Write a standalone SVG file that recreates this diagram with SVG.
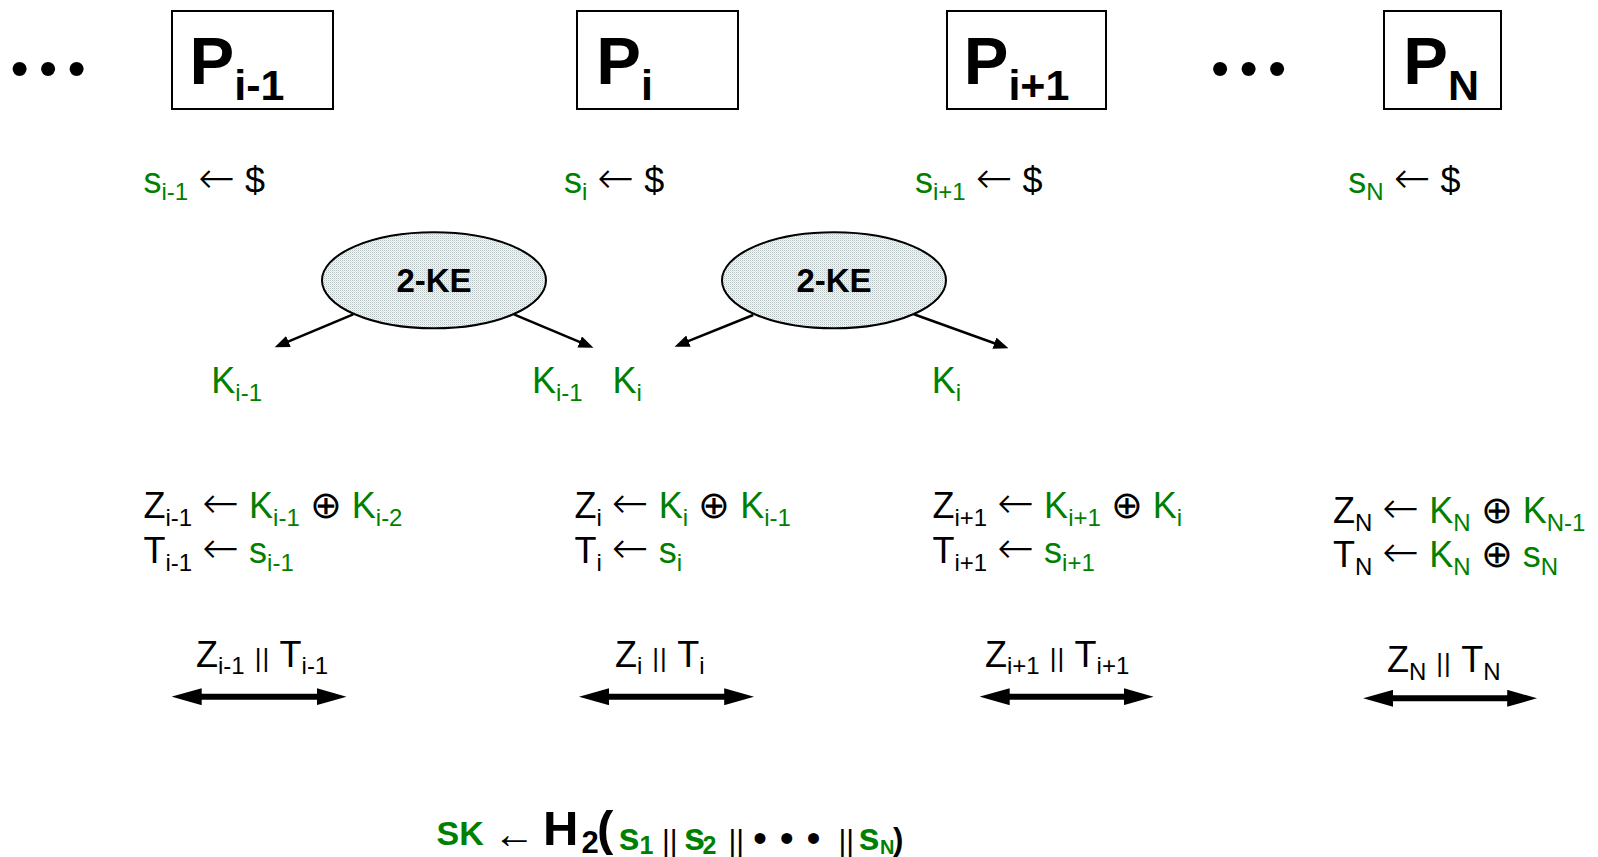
<svg xmlns="http://www.w3.org/2000/svg" width="1598" height="857" viewBox="0 0 1598 857">
<style>
.t{font-family:"Liberation Sans","DejaVu Sans",sans-serif;font-size:36px;fill:#000}
.f{font-family:"Liberation Sans","DejaVu Sans",sans-serif;fill:#000}
.g{fill:#008000}
.sb{font-size:24px}
.op{font-family:"DejaVu Sans",sans-serif;font-size:38px;font-weight:200}
.ar{font-family:"DejaVu Sans",sans-serif;font-size:44px;font-weight:200}
.pp{font-size:26px;letter-spacing:1px}
.b{font-weight:bold}
.box{fill:#fff;stroke:#000;stroke-width:2}
.P{font-family:"Liberation Sans",Arial,sans-serif;font-weight:bold;font-size:67px;fill:#000}
.Ps{font-size:43px}
.ke{font-family:"Liberation Sans",Arial,sans-serif;font-weight:bold;font-size:33px;fill:#000}
.ell{fill:url(#dots);stroke:#000;stroke-width:2}
.thin{stroke:#000;stroke-width:2.5;fill:none;marker-end:url(#ah)}
.dbl{stroke:#000;stroke-width:6;fill:none;marker-start:url(#dh);marker-end:url(#dh)}
.bul{font-family:"Liberation Sans",Arial,sans-serif;fill:#000}
</style>
<defs>
<pattern id="dots" width="2" height="2" patternUnits="userSpaceOnUse">
<rect width="2" height="2" fill="#f4f6f6"/>
<rect width="1" height="1" fill="#b8c2c2"/>
<rect x="1" y="1" width="1" height="1" fill="#dde3e3"/>
</pattern>
<marker id="ah" markerUnits="userSpaceOnUse" markerWidth="15" markerHeight="12" refX="3" refY="6" orient="auto"><path d="M0,0 L15,6 L0,12 z" fill="#000"/></marker>
<marker id="dh" markerUnits="userSpaceOnUse" markerWidth="30" markerHeight="17" refX="5" refY="8.5" orient="auto-start-reverse"><path d="M0,0 L30,8.5 L0,17 z" fill="#000"/></marker>
</defs>
<rect width="1598" height="857" fill="#fff"/>

<text class="bul" x="10.4" y="86" font-size="52" letter-spacing="10.3">•••</text>
<text class="bul" x="1211" y="86" font-size="52" letter-spacing="10.3">•••</text>

<g id="P_im1"><rect class="box" x="172" y="11" width="161" height="98"/><text class="P" x="189.5" y="84">P<tspan class="Ps" y="100">i-1</tspan></text></g>
<g id="P_i"><rect class="box" x="577" y="11" width="161" height="98"/><text class="P" x="596.2" y="84">P<tspan class="Ps" y="100">i</tspan></text></g>
<g id="P_ip1"><rect class="box" x="947" y="11" width="159" height="98"/><text class="P" x="963.7" y="84">P<tspan class="Ps" y="100">i+1</tspan></text></g>
<g id="P_N"><rect class="box" x="1384" y="11" width="117" height="98"/><text class="P" x="1403.2" y="84">P<tspan class="Ps" y="100">N</tspan></text></g>

<g id="s_row">
<text class="t" x="143.5" y="192.7"><tspan class="g">s<tspan class="sb" y="200.2">i-1</tspan></tspan><tspan y="192.7"> </tspan><tspan class="ar">←</tspan><tspan> $</tspan></text>
<text class="t" x="564" y="192.7"><tspan class="g">s<tspan class="sb" y="200.2">i</tspan></tspan><tspan y="192.7"> </tspan><tspan class="ar">←</tspan><tspan> $</tspan></text>
<text class="t" x="915" y="192.7"><tspan class="g">s<tspan class="sb" y="200.2">i+1</tspan></tspan><tspan y="192.7"> </tspan><tspan class="ar">←</tspan><tspan> $</tspan></text>
<text class="t" x="1348.3" y="192.7"><tspan class="g">s<tspan class="sb" y="200.2">N</tspan></tspan><tspan y="192.7"> </tspan><tspan class="ar">←</tspan><tspan> $</tspan></text>
</g>

<g id="ke1"><ellipse class="ell" cx="434" cy="280.3" rx="112" ry="48"/><text class="ke" x="434" y="292" text-anchor="middle">2-KE</text></g>
<g id="ke2"><ellipse class="ell" cx="834" cy="280.3" rx="112" ry="48"/><text class="ke" x="834" y="292" text-anchor="middle">2-KE</text></g>

<g id="connectors">
<line class="thin" x1="353.2" y1="314.3" x2="285.7" y2="342.7"/>
<line class="thin" x1="513.9" y1="314.3" x2="582.4" y2="343.1"/>
<line class="thin" x1="753.2" y1="315" x2="685.7" y2="342.2"/>
<line class="thin" x1="913.9" y1="314.3" x2="997.2" y2="344.2"/>
<line class="dbl" x1="196.7" y1="696.7" x2="321.5" y2="696.7"/>
<line class="dbl" x1="604" y1="696.7" x2="729.2" y2="696.7"/>
<line class="dbl" x1="1004.7" y1="696.7" x2="1128.6" y2="696.7"/>
<line class="dbl" x1="1388.2" y1="698.3" x2="1512.2" y2="698.3"/>
</g>

<g id="k_labels">
<text class="t g" x="211.3" y="393">K<tspan class="sb" y="400.5">i-1</tspan></text>
<text class="t g" x="532" y="393">K<tspan class="sb" y="400.5">i-1</tspan></text>
<text class="t g" x="612.4" y="393">K<tspan class="sb" y="400.5">i</tspan></text>
<text class="t g" x="931.7" y="393">K<tspan class="sb" y="400.5">i</tspan></text>
</g>

<g id="col1">
<text class="t" x="143.5" y="518.3">Z<tspan class="sb" y="525.8">i-1</tspan><tspan y="518.3"> </tspan><tspan class="ar">←</tspan><tspan> </tspan><tspan class="g">K<tspan class="sb" y="525.8">i-1</tspan></tspan><tspan y="518.3"> </tspan><tspan class="op">⊕</tspan><tspan class="g"> K<tspan class="sb" y="525.8">i-2</tspan></tspan></text>
<text class="t" x="143.5" y="563.3">T<tspan class="sb" y="570.8">i-1</tspan><tspan y="563.3"> </tspan><tspan class="ar">←</tspan><tspan> </tspan><tspan class="g">s<tspan class="sb" y="570.8">i-1</tspan></tspan></text>
<text class="t" x="196" y="666.7">Z<tspan class="sb" y="674.2">i-1</tspan><tspan y="666.7"> </tspan><tspan class="pp">||</tspan><tspan> T</tspan><tspan class="sb" y="674.2">i-1</tspan></text>
</g>
<g id="col2">
<text class="t" x="574.5" y="518.3">Z<tspan class="sb" y="525.8">i</tspan><tspan y="518.3"> </tspan><tspan class="ar">←</tspan><tspan> </tspan><tspan class="g">K<tspan class="sb" y="525.8">i</tspan></tspan><tspan y="518.3"> </tspan><tspan class="op">⊕</tspan><tspan class="g"> K<tspan class="sb" y="525.8">i-1</tspan></tspan></text>
<text class="t" x="574.5" y="563.3">T<tspan class="sb" y="570.8">i</tspan><tspan y="563.3"> </tspan><tspan class="ar">←</tspan><tspan> </tspan><tspan class="g">s<tspan class="sb" y="570.8">i</tspan></tspan></text>
<text class="t" x="615" y="666.7">Z<tspan class="sb" y="674.2">i</tspan><tspan y="666.7"> </tspan><tspan class="pp">||</tspan><tspan> T</tspan><tspan class="sb" y="674.2">i</tspan></text>
</g>
<g id="col3">
<text class="t" x="932.5" y="518.3">Z<tspan class="sb" y="525.8">i+1</tspan><tspan y="518.3"> </tspan><tspan class="ar">←</tspan><tspan> </tspan><tspan class="g">K<tspan class="sb" y="525.8">i+1</tspan></tspan><tspan y="518.3"> </tspan><tspan class="op">⊕</tspan><tspan class="g"> K<tspan class="sb" y="525.8">i</tspan></tspan></text>
<text class="t" x="932.5" y="563.3">T<tspan class="sb" y="570.8">i+1</tspan><tspan y="563.3"> </tspan><tspan class="ar">←</tspan><tspan> </tspan><tspan class="g">s<tspan class="sb" y="570.8">i+1</tspan></tspan></text>
<text class="t" x="985" y="666.7">Z<tspan class="sb" y="674.2">i+1</tspan><tspan y="666.7"> </tspan><tspan class="pp">||</tspan><tspan> T</tspan><tspan class="sb" y="674.2">i+1</tspan></text>
</g>
<g id="col4">
<text class="t" x="1333" y="523">Z<tspan class="sb" y="530.5">N</tspan><tspan y="523"> </tspan><tspan class="ar">←</tspan><tspan> </tspan><tspan class="g">K<tspan class="sb" y="530.5">N</tspan></tspan><tspan y="523"> </tspan><tspan class="op">⊕</tspan><tspan class="g"> K<tspan class="sb" y="530.5">N-1</tspan></tspan></text>
<text class="t" x="1333" y="567">T<tspan class="sb" y="574.5">N</tspan><tspan y="567"> </tspan><tspan class="ar">←</tspan><tspan> </tspan><tspan class="g">K<tspan class="sb" y="574.5">N</tspan></tspan><tspan y="567"> </tspan><tspan class="op">⊕</tspan><tspan class="g"> s<tspan class="sb" y="574.5">N</tspan></tspan></text>
<text class="t" x="1387" y="672">Z<tspan class="sb" y="679.5">N</tspan><tspan y="672"> </tspan><tspan class="pp">||</tspan><tspan> T</tspan><tspan class="sb" y="679.5">N</tspan></text>
</g>

<g id="sk">
<text class="f b g" x="436.6" y="845" font-size="34">SK</text>
<text class="f" x="493" y="848" font-family="DejaVu Sans, sans-serif" font-weight="200" font-size="42">←</text>
<text class="f b" x="543" y="845" font-size="49">H</text>
<text class="f b" x="581.5" y="853" font-size="31">2</text>
<text class="f b" x="597" y="845" font-size="49">(</text>
<text class="f b g" x="618.5" y="850" font-size="38">s</text>
<text class="f b g" x="639.5" y="854" font-size="25">1</text>
<text class="f" x="662" y="851" font-size="30">||</text>
<text class="f b g" x="684" y="850" font-size="38">s</text>
<text class="f b g" x="702.5" y="854" font-size="25">2</text>
<text class="f" x="728.5" y="851" font-size="30">||</text>
<text class="bul" x="753" y="852" font-size="40" letter-spacing="12.7">•••</text>
<text class="f" x="838.5" y="851" font-size="30">||</text>
<text class="f b g" x="858.5" y="850" font-size="38">s</text>
<text class="f b g" x="880" y="854" font-size="20">N</text>
<text class="f b" x="893" y="850" font-size="31">)</text>
</g>
</svg>
